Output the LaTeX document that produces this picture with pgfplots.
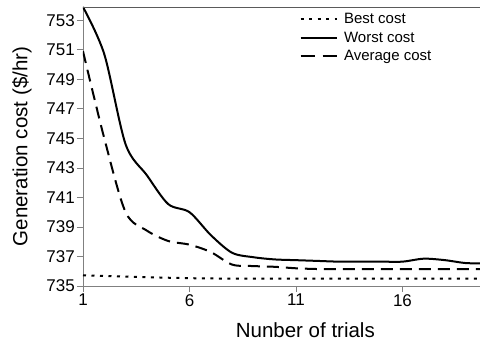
\documentclass[border=0pt]{standalone}
\usepackage{fontspec}
\setmainfont{Liberation Sans}
\usepackage{pgfplots}
\pgfplotsset{compat=1.18}

\definecolor{axisgrey}{RGB}{128,128,128}
\definecolor{framegrey}{RGB}{90,90,90}

\tikzset{
  bestline/.style={black, line width=2pt, dash pattern=on 3pt off 5.5pt},
  worstline/.style={black, line width=2pt},
  avgline/.style={black, line width=2pt, dash pattern=on 12pt off 7pt},
}

\begin{document}
\begin{tikzpicture}
\begin{axis}[
  name=ax,
  scale only axis,
  width=397pt, height=279pt,
  xmin=1, xmax=19.64,
  ymin=735, ymax=753.9,
  axis x line*=bottom,
  axis y line*=left,
  axis line style={axisgrey, line width=0.8pt},
  xtick={1,6,11,16},
  ytick={735,737,...,753},
  tick align=outside,
  tick style={axisgrey, line width=0.8pt},
  major tick length=6pt,
  /pgf/number format/assume math mode=true,
  /pgf/number format/1000 sep={},
  ticklabel style={font=\fontsize{17}{19}\selectfont},
  yticklabel style={inner sep=2pt},
  xticklabel style={inner sep=2pt},
  xlabel={Nunber of trials},
  ylabel={Generation cost (\$/hr)},
  label style={font=\fontsize{20.5}{24}\selectfont},
  xlabel style={at={(axis description cs:0.56,-0.183)}, anchor=base},
  ylabel style={at={(axis description cs:-0.1537,0.5)}, anchor=center},
  legend style={at={(axis description cs:0.545,0.983)}, anchor=north west,
    draw=none, fill=none, inner sep=0pt,
    font=\fontsize{15}{17}\selectfont,
    nodes={inner sep=1.5pt}, row sep=3.5pt, column sep=5pt},
  legend cell align=left,
  clip=true,
]
% best cost over trials
\addplot[bestline, smooth, tension=0.5,
  legend image code/.code={\draw[bestline] (0pt,0pt) -- (36pt,0pt);}]
  coordinates {(1,735.72) (2,735.68) (3,735.64) (4,735.6) (5,735.56) (6,735.53)
  (7,735.51) (8,735.5) (9,735.5) (10,735.5) (11,735.5) (12,735.5) (13,735.5)
  (14,735.5) (15,735.5) (16,735.5) (17,735.5) (18,735.5) (19,735.5) (20,735.5)};
\addlegendentry{Best cost}
% worst cost over trials
\addplot[worstline, smooth, tension=0.5,
  legend image code/.code={\draw[worstline] (0pt,0pt) -- (36pt,0pt);}]
  coordinates {(1,753.9) (2,750.7) (3,744.6) (4,742.5) (5,740.55) (6,740.0)
  (7,738.45) (8,737.25) (9,736.95) (10,736.8) (11,736.75) (12,736.7) (13,736.65)
  (14,736.65) (15,736.65) (16,736.65) (17,736.85) (18,736.75) (19,736.55) (20,736.55)};
\addlegendentry{Worst cost}
% average cost over trials
\addplot[avgline, smooth, tension=0.5,
  legend image code/.code={\draw[black, line width=2pt, dash pattern=on 14pt off 8pt] (0pt,0pt) -- (36pt,0pt);}]
  coordinates {(1,750.9) (2,745.0) (3,740.0) (4,738.75) (5,738.05) (6,737.8)
  (7,737.3) (8,736.45) (9,736.35) (10,736.3) (11,736.2) (12,736.15) (13,736.15)
  (14,736.15) (15,736.15) (16,736.15) (17,736.15) (18,736.15) (19,736.15) (20,736.15)};
\addlegendentry{Average cost}
\end{axis}
% top border of the plot area
\draw[framegrey, line width=0.8pt] (ax.north west) -- (ax.north east);
\pgfresetboundingbox
\path[use as bounding box] ([shift={(-83pt,-59pt)}]ax.south west) rectangle ([shift={(0pt,7pt)}]ax.north east);
\end{tikzpicture}
\end{document}
